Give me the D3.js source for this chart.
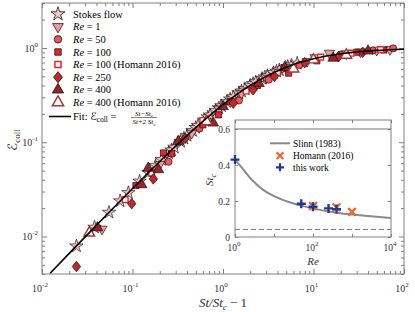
<!DOCTYPE html>
<html>
<head>
<meta charset="utf-8">
<script src="https://cdn.jsdelivr.net/npm/d3@7"></script>
<style>
body { margin: 0; background: #fff; }
text { font-family: "Liberation Serif", "DejaVu Serif", serif; }
.scr { font-family: "DejaVu Sans", "DejaVu Serif", serif; }
</style>
</head>
<body>
<script>
// main panel data: x = St/St_c - 1, y = collision efficiency
var stokesX = [0.024, 0.038, 0.055, 0.073, 0.09, 0.12, 0.15, 0.18, 0.21, 0.25, 0.27, 0.29, 0.34, 0.37, 0.4, 0.46, 0.5, 0.53, 0.62, 0.68, 0.72, 0.83, 0.9, 0.96, 1.1, 1.2, 1.3, 1.5, 1.6, 1.75, 2.0, 2.15, 2.3, 2.7, 2.9, 3.1, 3.6, 3.9, 4.2, 4.9, 5.2, 5.7, 6.6];
var stokesY = [0.0079, 0.0125, 0.018, 0.0238, 0.0291, 0.0385, 0.0476, 0.0566, 0.0654, 0.0769, 0.0826, 0.0881, 0.1018, 0.1098, 0.1176, 0.1329, 0.1429, 0.1501, 0.1713, 0.1848, 0.1935, 0.2167, 0.2308, 0.2424, 0.2683, 0.2857, 0.3023, 0.3333, 0.3478, 0.3684, 0.4, 0.4175, 0.434, 0.4737, 0.4915, 0.5082, 0.5455, 0.5652, 0.5833, 0.6203, 0.6341, 0.6552, 0.6875];

var re1X = [0.046, 0.2, 0.45, 0.9, 1.6, 3, 5, 8.5, 10.4, 15, 23, 33, 50, 70];
var re1Y = [0.012, 0.058, 0.125, 0.225, 0.33, 0.48, 0.62, 0.72, 0.79, 0.88, 0.87, 0.91, 0.95, 0.965];

var re50X = [0.16, 0.25, 0.55, 1.5, 3.2, 7, 20, 45, 76];
var re50Y = [0.047, 0.062, 0.14, 0.277, 0.46, 0.66, 0.85, 0.94, 0.99];

var re100X = [0.109, 0.22, 0.27, 0.6, 0.89, 1.2, 2.4, 5.3, 10.9, 30, 60];
var re100Y = [0.0347, 0.077, 0.0755, 0.153, 0.195, 0.27, 0.4, 0.54, 0.73, 0.9, 0.95];

var re100hX = [0.083, 0.163, 0.6, 1.8, 4, 12, 26, 55];
var re100hY = [0.0246, 0.047, 0.17, 0.35, 0.55, 0.8, 0.88, 0.96];

var re250X = [0.024, 0.098, 0.17, 0.38, 1.3, 2.15, 3.7, 8, 18.9, 35];
var re250Y = [0.0048, 0.0223, 0.0408, 0.11, 0.26, 0.36, 0.5, 0.7, 0.81, 0.9];

var re400X = [0.041, 0.126, 0.149, 0.193, 0.32, 0.78, 1.0, 2.5, 4.8, 16.5, 40];
var re400Y = [0.0124, 0.0355, 0.053, 0.0512, 0.1018, 0.16, 0.24, 0.42, 0.62, 0.78, 0.93];

var re400hX = [0.0333, 0.66, 6, 10, 23];
var re400hY = [0.0109, 0.166, 0.6, 0.75, 0.84];

// fit curve
var fitX = [0.0123, 0.02, 0.03, 0.05, 0.1, 0.2, 0.3, 0.5, 0.7, 1, 1.5, 2, 3, 5, 7, 10, 20, 30, 50, 100];
var fitY = [0.00408, 0.00662, 0.0099, 0.01639, 0.03226, 0.0625, 0.0909, 0.1429, 0.1892, 0.25, 0.3333, 0.4, 0.5, 0.625, 0.7, 0.7692, 0.8696, 0.9091, 0.9434, 0.9709];

// inset data: critical Stokes number vs Re
var slinnRe = [1, 1.5, 2.4, 3.5, 5.3, 8, 14, 25, 38, 60, 100, 250, 500, 1000, 3000, 10000];
var slinnSt = [0.43, 0.385, 0.33, 0.295, 0.262, 0.238, 0.213, 0.193, 0.181, 0.17, 0.159, 0.142, 0.132, 0.125, 0.115, 0.105];
var homannRe = [100, 400, 1000];
var homannSt = [0.172, 0.165, 0.14];
var workRe = [1, 50, 100, 250, 400];
var workSt = [0.43, 0.185, 0.168, 0.159, 0.155];

var xTicks = [0.01, 0.1, 1, 10, 100];
var yTicks = [0.01, 0.1, 1];
var insetXTicks = [1, 100, 10000];
var insetYTicks = [0, 0.2, 0.4, 0.6];

var width = 415, height = 312;
var gray = "#808080";

var svg = d3.select("body").append("svg")
	.attr("width", width)
	.attr("height", height);

var x = d3.scaleLog().domain([0.01, 100]).range([42, 404]);
var y = d3.scaleLog().domain([0.004, 3]).range([274, 3]);

function zip(xs, ys) {
	return xs.map(function (v, i) { return [v, ys[i]]; });
}
function isDecade(v) {
	var l = Math.log10(v);
	return Math.abs(l - Math.round(l)) < 1e-6;
}

// a diamond a bit wider than d3's own
var wideDiamond = {
	draw: function (ctx, size) {
		var h = Math.sqrt(size / 1.6);
		var w = h * 0.8;
		ctx.moveTo(0, -h);
		ctx.lineTo(w, 0);
		ctx.lineTo(0, h);
		ctx.lineTo(-w, 0);
		ctx.closePath();
	}
};

// ticks: minor + major on every side, pointing inward
function drawTicks(g, axisFn, scale, values, size, pos) {
	g.append("g")
		.attr("transform", pos)
		.call(axisFn(scale).tickValues(values).tickSize(size).tickFormat(""))
		.call(function (s) { s.select(".domain").remove(); s.selectAll("line").attr("stroke", gray); });
}
var xAll = x.ticks(), yAll = y.ticks();
var xMinor = xAll.filter(function (d) { return !isDecade(d); });
var yMinor = yAll.filter(function (d) { return !isDecade(d) && d >= 0.004; });
var axes = svg.append("g");
drawTicks(axes, d3.axisBottom, x, xMinor, -3, "translate(0,274)");
drawTicks(axes, d3.axisBottom, x, xTicks, -5, "translate(0,274)");
drawTicks(axes, d3.axisTop, x, xMinor, -3, "translate(0,3)");
drawTicks(axes, d3.axisTop, x, xTicks, -5, "translate(0,3)");
drawTicks(axes, d3.axisLeft, y, yMinor, -3, "translate(42,0)");
drawTicks(axes, d3.axisLeft, y, yTicks, -5, "translate(42,0)");
drawTicks(axes, d3.axisRight, y, yMinor, -3, "translate(404,0)");
drawTicks(axes, d3.axisRight, y, yTicks, -5, "translate(404,0)");

svg.append("rect")
	.attr("x", 42).attr("y", 3)
	.attr("width", 362).attr("height", 271)
	.attr("fill", "none").attr("stroke", gray);

// power-of-ten labels
function powLabel(sel, base, exp) {
	sel.append("tspan").text(base);
	sel.append("tspan").attr("dy", -5).attr("font-size", 7).text(exp);
}
xTicks.forEach(function (d) {
	var t = svg.append("text")
		.attr("x", x(d) - 2).attr("y", 292)
		.attr("text-anchor", "middle")
		.attr("font-size", 10).attr("fill", "#333");
	powLabel(t, "10", String(Math.round(Math.log10(d))));
});
yTicks.forEach(function (d) {
	var t = svg.append("text")
		.attr("x", 38).attr("y", y(d) + 4)
		.attr("text-anchor", "end")
		.attr("font-size", 10).attr("fill", "#333");
	powLabel(t, "10", String(Math.round(Math.log10(d))));
});

// axis titles
var xl = svg.append("text")
	.attr("x", 223).attr("y", 307)
	.attr("text-anchor", "middle")
	.attr("font-size", 13).attr("font-style", "italic").attr("fill", "#333");
xl.append("tspan").text("St/St");
xl.append("tspan").attr("font-size", 9).attr("dy", 3).text("c");
xl.append("tspan").attr("dy", -3).attr("font-style", "normal").text(" \u2212 1");

var yl = svg.append("text")
	.attr("transform", "translate(17,140) rotate(-90)")
	.attr("text-anchor", "middle")
	.attr("font-size", 13).attr("fill", "#333");
yl.append("tspan").attr("class", "scr").text("\u2130");
yl.append("tspan").attr("font-size", 9).attr("dy", 3).text("coll");

// marker styles
var series = [
	{ name: "Stokes", xs: stokesX, ys: stokesY, sym: d3.symbolStar, size: 55, fill: "#f8c4c4", stroke: "#000", rot: 0 },
	{ name: "Re1", xs: re1X, ys: re1Y, sym: d3.symbolTriangle, size: 45, fill: "#f29a9a", stroke: "#000", rot: 180 },
	{ name: "Re50", xs: re50X, ys: re50Y, sym: d3.symbolCircle, size: 40, fill: "#f05656", stroke: "#000", rot: 0 },
	{ name: "Re100", xs: re100X, ys: re100Y, sym: d3.symbolSquare, size: 38, fill: "#e8232b", stroke: "#000", rot: 0 },
	{ name: "Re100h", xs: re100hX, ys: re100hY, sym: d3.symbolSquare, size: 34, fill: "#fff", stroke: "#e8232b", rot: 0, open: true },
	{ name: "Re250", xs: re250X, ys: re250Y, sym: wideDiamond, size: 45, fill: "#c0282a", stroke: "#000", rot: 0 },
	{ name: "Re400", xs: re400X, ys: re400Y, sym: d3.symbolTriangle, size: 50, fill: "#962626", stroke: "#000", rot: 0 },
	{ name: "Re400h", xs: re400hX, ys: re400hY, sym: d3.symbolTriangle, size: 50, fill: "#fff", stroke: "#a23636", rot: 0, open: true }
];

var pts = svg.append("g");
series.forEach(function (s) {
	pts.selectAll(".m" + s.name)
		.data(zip(s.xs, s.ys))
		.enter()
		.append("path")
		.attr("class", "m" + s.name)
		.attr("d", d3.symbol().type(s.sym).size(s.size))
		.attr("transform", function (d) { return "translate(" + x(d[0]) + "," + y(d[1]) + ") rotate(" + s.rot + ")"; })
		.attr("fill", s.fill)
		.attr("stroke", s.stroke)
		.attr("stroke-width", s.open ? 1.4 : 0.6);
});

// fit line on top of the markers
svg.append("path")
	.datum(zip(fitX, fitY))
	.attr("fill", "none")
	.attr("stroke", "#000")
	.attr("stroke-width", 1.6)
	.attr("d", d3.line().x(function (d) { return x(d[0]); }).y(function (d) { return y(d[1]); }).curve(d3.curveMonotoneX));

// legend
var legY = [14, 26.7, 39.3, 52, 64.5, 77.2, 89.8, 102.4];
var legLabels = [["", "Stokes flow"], ["Re", " = 1"], ["Re", " = 50"], ["Re", " = 100"], ["Re", " = 100 (Homann 2016)"], ["Re", " = 250"], ["Re", " = 400"], ["Re", " = 400 (Homann 2016)"]];
series.forEach(function (s, i) {
	svg.append("path")
		.attr("d", d3.symbol().type(s.sym).size(s.size * 1.1))
		.attr("transform", "translate(58," + legY[i] + ") rotate(" + s.rot + ")")
		.attr("fill", s.fill)
		.attr("stroke", s.stroke)
		.attr("stroke-width", s.open ? 1.5 : 0.7);
	var t = svg.append("text")
		.attr("x", 73).attr("y", legY[i] + 3.5)
		.attr("font-size", 10.5);
	if (legLabels[i][0]) t.append("tspan").attr("font-style", "italic").text(legLabels[i][0]);
	t.append("tspan").text(legLabels[i][1]);
});
svg.append("line")
	.attr("x1", 49).attr("x2", 71).attr("y1", 116.5).attr("y2", 116.5)
	.attr("stroke", "#000").attr("stroke-width", 1.6);
var ft = svg.append("text").attr("x", 73).attr("y", 120).attr("font-size", 10.5);
ft.append("tspan").text("Fit: ");
ft.append("tspan").attr("class", "scr").text("\u2130");
ft.append("tspan").attr("font-size", 7.5).attr("dy", 2).text("coll");
ft.append("tspan").attr("dy", -2).text(" = ");
svg.append("text").attr("x", 144).attr("y", 115.5).attr("text-anchor", "middle")
	.attr("font-size", 7).attr("font-style", "italic").text("St\u2212St").append("tspan").attr("font-size", 5).attr("dy", 1.5).text("c");
svg.append("line").attr("x1", 131).attr("x2", 157).attr("y1", 117.5).attr("y2", 117.5)
	.attr("stroke", "#000").attr("stroke-width", 0.5);
svg.append("text").attr("x", 144).attr("y", 124).attr("text-anchor", "middle")
	.attr("font-size", 7).attr("font-style", "italic").text("St+2 St").append("tspan").attr("font-size", 5).attr("dy", 1.5).text("c");

// inset
var ix = d3.scaleLog().domain([1, 10000]).range([235, 391]);
var iy = d3.scaleLinear().domain([0, 0.65]).range([237, 120]);

var inset = svg.append("g");
inset.append("rect")
	.attr("x", 235).attr("y", 120)
	.attr("width", 156).attr("height", 117)
	.attr("fill", "#fff");

drawTicks(inset, d3.axisBottom, ix, [1, 10, 100, 1000, 10000], -3, "translate(0,237)");
drawTicks(inset, d3.axisTop, ix, [1, 10, 100, 1000, 10000], -3, "translate(0,120)");
drawTicks(inset, d3.axisLeft, iy, insetYTicks, -3, "translate(235,0)");
drawTicks(inset, d3.axisRight, iy, insetYTicks, -3, "translate(391,0)");

inset.append("rect")
	.attr("x", 235).attr("y", 120)
	.attr("width", 156).attr("height", 117)
	.attr("fill", "none").attr("stroke", gray);

// reference levels
inset.append("line")
	.attr("x1", 235).attr("x2", 391).attr("y1", iy(0.6)).attr("y2", iy(0.6))
	.attr("stroke", "#777").attr("stroke-width", 1);
inset.append("line")
	.attr("x1", 235).attr("x2", 391).attr("y1", iy(0.042)).attr("y2", iy(0.042))
	.attr("stroke", "#777").attr("stroke-width", 1).attr("stroke-dasharray", "5,3");

inset.append("path")
	.datum(zip(slinnRe, slinnSt))
	.attr("fill", "none").attr("stroke", "#8a8a8a").attr("stroke-width", 2)
	.attr("d", d3.line().x(function (d) { return ix(d[0]); }).y(function (d) { return iy(d[1]); }).curve(d3.curveMonotoneX));

function cross(g, cx, cy, r, color, w, rot) {
	g.append("path")
		.attr("d", "M" + (-r) + ",0H" + r + "M0," + (-r) + "V" + r)
		.attr("transform", "translate(" + cx + "," + cy + ") rotate(" + rot + ")")
		.attr("stroke", color).attr("stroke-width", w).attr("fill", "none");
}
zip(homannRe, homannSt).forEach(function (d) { cross(inset, ix(d[0]), iy(d[1]), 5.4, "#e8672c", 2.4, 45); });
zip(workRe, workSt).forEach(function (d) { cross(inset, ix(d[0]), iy(d[1]), 4.5, "#1f3a93", 2.4, 0); });

// inset legend
inset.append("line").attr("x1", 270).attr("x2", 290).attr("y1", 143.3).attr("y2", 143.3)
	.attr("stroke", "#8a8a8a").attr("stroke-width", 2);
cross(inset, 280, 155.7, 4.8, "#e8672c", 2.2, 45);
cross(inset, 280, 167.3, 4, "#1f3a93", 2.2, 0);
[["Slinn (1983)", 146.8], ["Homann (2016)", 159.2], ["this work", 170.8]].forEach(function (l) {
	inset.append("text").attr("x", 293).attr("y", l[1]).attr("font-size", 9.5).text(l[0]);
});

// inset tick labels
insetYTicks.forEach(function (d) {
	inset.append("text").attr("x", 230).attr("y", iy(d) + 3.5)
		.attr("text-anchor", "end").attr("font-size", 9.5).attr("fill", "#333")
		.text(d === 0 ? "0" : d3.format(".1f")(d));
});
insetXTicks.forEach(function (d) {
	var t = inset.append("text").attr("x", ix(d) - 1).attr("y", 251)
		.attr("text-anchor", "middle").attr("font-size", 9.5).attr("fill", "#333");
	powLabel(t, "10", String(Math.round(Math.log10(d))));
});
inset.append("text").attr("x", 313).attr("y", 265).attr("text-anchor", "middle")
	.attr("font-size", 11).attr("font-style", "italic").attr("fill", "#333").text("Re");
var sl = inset.append("text")
	.attr("transform", "translate(213,180) rotate(-90)")
	.attr("text-anchor", "middle").attr("font-size", 11).attr("font-style", "italic").attr("fill", "#333");
sl.append("tspan").text("St");
sl.append("tspan").attr("font-size", 8).attr("dy", 2.5).text("c");
</script>
</body>
</html>
